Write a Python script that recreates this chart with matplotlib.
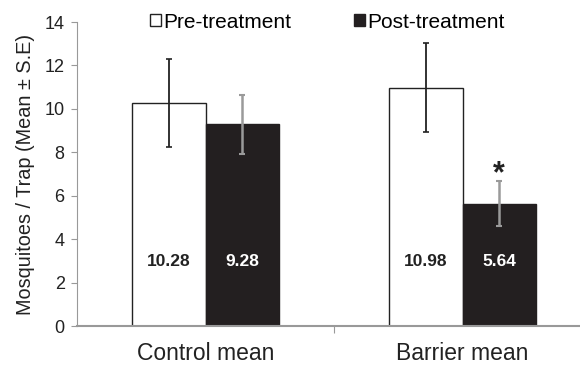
import matplotlib
matplotlib.use("Agg")
import matplotlib.pyplot as plt
from matplotlib.patches import Patch
import numpy as np

plt.rcParams["font.family"] = ["Liberation Sans", "DejaVu Sans"]

groups = ["Control mean", "Barrier mean"]
pre_mean = [10.28, 10.98]
post_mean = [9.28, 5.64]
pre_se = [2.03, 2.05]
post_se = [1.38, 1.03]

x = np.arange(len(groups))
w = 0.285

fig = plt.figure(figsize=(5.8, 3.73), dpi=100)
ax = fig.add_axes([0.133, 0.126, 0.867, 0.815])

ax.bar(x - w / 2, pre_mean, w, color="white", edgecolor="#222222", linewidth=1.0)
ax.bar(x + w / 2, post_mean, w, color="#231f20", edgecolor="#231f20", linewidth=1.0)
ax.errorbar(x - w / 2, pre_mean, yerr=pre_se, fmt="none", ecolor="#222222",
            elinewidth=1.3, capsize=2.5, capthick=1.2)
ax.errorbar(x + w / 2, post_mean, yerr=post_se, fmt="none", ecolor="#9a9a9a",
            elinewidth=1.8, capsize=2.5, capthick=1.5)

for i in range(len(groups)):
    ax.text(x[i] - w / 2, 2.95, f"{pre_mean[i]:.2f}", ha="center", va="center",
            fontsize=12.5, fontweight="bold", color="#222222")
    ax.text(x[i] + w / 2, 2.95, f"{post_mean[i]:.2f}", ha="center", va="center",
            fontsize=12.5, fontweight="bold", color="white")

# significance marker
ax.text(x[1] + w / 2, post_mean[1] + post_se[1] + 0.3, "*", ha="center", va="center",
        fontsize=22, fontweight="bold", color="#222222")

ax.set_xlim(-0.5, 1.457)
ax.set_ylim(0, 14)
ax.set_yticks(range(0, 15, 2))
ax.set_xticks([0.5])
ax.set_xticklabels([""])
ax.tick_params(axis="x", length=5, color="#999999", direction="out")
ax.tick_params(axis="y", length=4, color="#999999", labelsize=13, labelcolor="#222222", pad=5)
for i, g in enumerate(groups):
    ax.text(x[i], -0.75, g, ha="center", va="top", fontsize=16.5, color="#222222")

for s in ["top", "right"]:
    ax.spines[s].set_visible(False)
ax.spines["left"].set_color("#999999")
ax.spines["bottom"].set_color("#999999")
ax.spines["bottom"].set_linewidth(1.5)

ax.set_ylabel("Mosquitoes / Trap (Mean \u00b1 S.E)", fontsize=14.3, color="#222222", labelpad=7)

handles = [Patch(facecolor="white", edgecolor="#222222", linewidth=1.0),
           Patch(facecolor="#231f20", edgecolor="#231f20")]
ax.legend(handles, ["Pre-treatment", "Post-treatment"], ncol=2, frameon=False,
          loc="center", bbox_to_anchor=(0.498, 1.0), fontsize=15,
          handlelength=0.5, handleheight=0.5, handletextpad=0.15, columnspacing=3.0)

fig.savefig("out.png", dpi=100)
